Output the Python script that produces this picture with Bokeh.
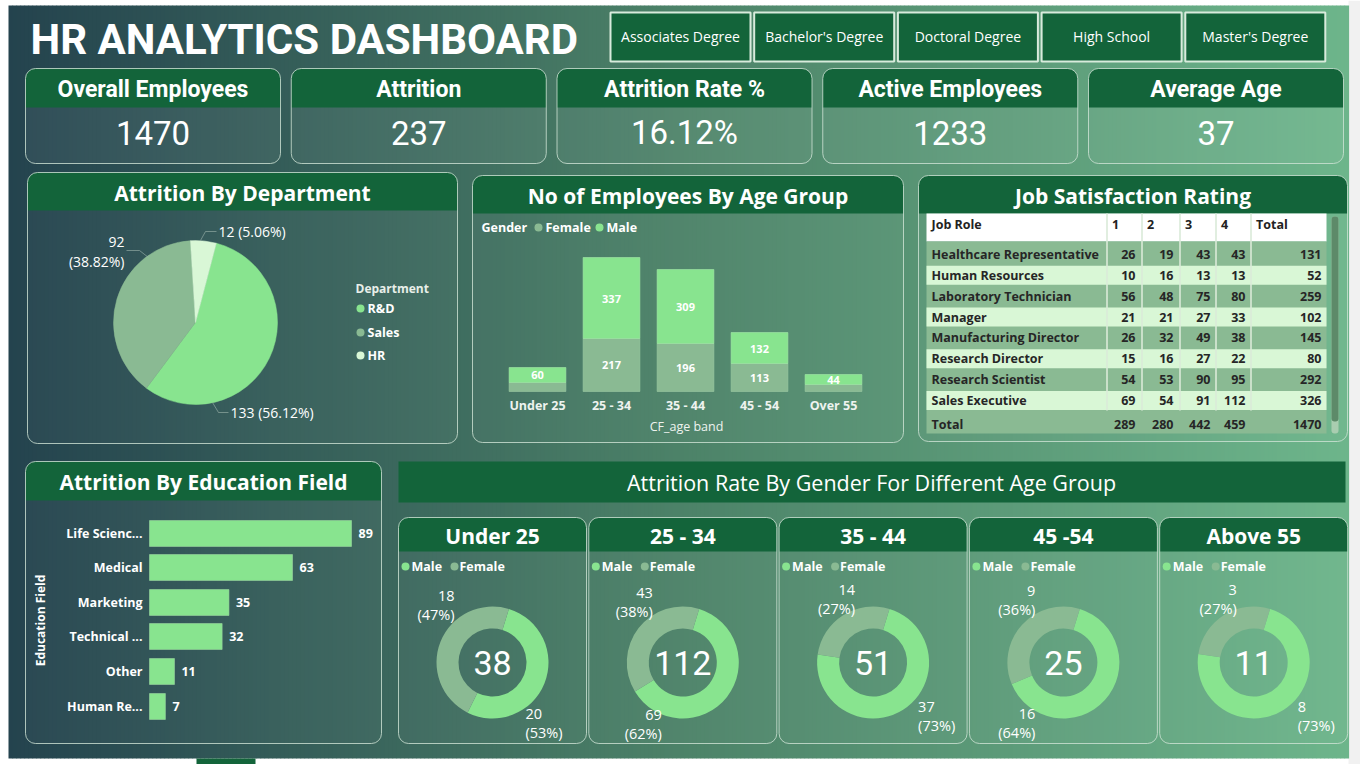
import numpy as np
from bokeh.plotting import figure
from bokeh.models import Range1d
from bokeh.core.properties import value
from bokeh.embed import file_html
from bokeh.resources import INLINE

# ---------------- data ----------------
education_levels = ["Associates Degree", "Bachelor's Degree", "Doctoral Degree", "High School", "Master's Degree"]

kpi_titles = ["Overall Employees", "Attrition", "Attrition Rate %", "Active Employees", "Average Age"]
average_age = 37

departments = ["R&D", "Sales", "HR"]
dept_attrition = [133, 92, 12]

age_bands = ["Under 25", "25 - 34", "35 - 44", "45 - 54", "Over 55"]
female_employees = [37, 217, 196, 113, 25]
male_employees = [60, 337, 309, 132, 44]

job_roles = ["Healthcare Representative", "Human Resources", "Laboratory Technician", "Manager",
             "Manufacturing Director", "Research Director", "Research Scientist", "Sales Executive",
             "Sales Representative"]
rating_1 = [26, 10, 56, 21, 26, 15, 54, 69, 12]
rating_2 = [19, 16, 48, 21, 32, 16, 53, 54, 21]
rating_3 = [43, 13, 75, 27, 49, 27, 90, 91, 27]
rating_4 = [43, 13, 80, 33, 38, 22, 95, 112, 23]
rating_headers = ["Job Role", "1", "2", "3", "4", "Total"]
visible_roles = 8  # rows visible above the table's scroll position

edu_fields = ["Life Sciences", "Medical", "Marketing", "Technical Degree", "Other", "Human Resources"]
edu_tick_labels = ["Life Scienc...", "Medical", "Marketing", "Technical ...", "Other", "Human Re..."]
edu_attrition = [89, 63, 35, 32, 11, 7]

gender_age_groups = ["Under 25", "25 - 34", "35 - 44", "45 -54", "Above 55"]
attrition_male = [20, 69, 37, 16, 8]
attrition_female = [18, 43, 14, 9, 3]

# ---------------- derived KPIs ----------------
total_employees = sum(female_employees) + sum(male_employees)
total_attrition = sum(dept_attrition)
attrition_rate = total_attrition / total_employees * 100
kpi_values = [str(total_employees), str(total_attrition), f"{attrition_rate:.2f}%",
              str(total_employees - total_attrition), str(average_age)]

# ---------------- style ----------------
W, H = 1360, 764
DARK = "#13643a"
MALE = "#88e48f"
FEMALE = "#8aba93"
PALE = "#d9f7d6"
EDGE = "#cfe3d6"
SANS = "Open Sans"
NARROW = "Roboto"


def Y(py):
    """top-down pixel row -> plot y"""
    return H - py


p = figure(width=W, height=H, x_range=Range1d(0, W), y_range=Range1d(0, H),
           output_backend="svg", toolbar_location=None, min_border=0)
p.axis.visible = False
p.grid.visible = False
p.outline_line_color = None
p.background_fill_color = "white"
p.border_fill_color = "white"


def put(x, y, s, size, color="white", bold=False, align="center", baseline="middle",
        font=SANS, angle=0.0, target=None, **kw):
    t = target if target is not None else p
    xs = x if isinstance(x, (list, np.ndarray)) else [x]
    ys = y if isinstance(y, (list, np.ndarray)) else [y]
    ss = s if isinstance(s, list) else [s]
    if target is None:
        ys = [Y(v) for v in ys]
    t.text(x=list(xs), y=list(ys), text=ss, text_font=value(font), text_font_size=size,
           text_font_style="bold" if bold else "normal", text_color=color,
           text_align=align, text_baseline=baseline, angle=angle, **kw)


def panel(x0, x1, y0, y1, head, title=None, size="21px", bold=True, radius=10, body_alpha=0.03):
    p.quad(left=x0, right=x1, top=Y(y0), bottom=Y(y1), fill_color="white", fill_alpha=body_alpha,
           line_color=None, border_radius=radius)
    p.quad(left=x0, right=x1, top=Y(y0), bottom=Y(y0 + head), fill_color=DARK, line_color=None,
           border_radius=(radius, radius, 0, 0))
    p.quad(left=x0, right=x1, top=Y(y0), bottom=Y(y1), fill_color=None, line_color=EDGE,
           line_alpha=0.8, line_width=1, border_radius=radius)
    if title:
        put((x0 + x1) / 2, y0 + head / 2 + 1, title, size, bold=bold)


# ---------------- background ----------------
p.quad(left=1348, right=W, top=H, bottom=0, fill_color="#f1f1f1", line_color=None)
gx = np.arange(8, 1348, 4.0)
t = (gx + 2 - 8) / 1340.0
stops = np.array([[36, 67, 78], [76, 130, 104], [109, 181, 139]])
rgb = np.stack([np.interp(t, [0, 0.5, 1], stops[:, k]) for k in range(3)], axis=1)
bg = ["#%02x%02x%02x" % tuple(int(round(c)) for c in row) for row in rgb]
p.quad(left=gx, right=gx + 4.6, top=Y(5), bottom=Y(758), fill_color=bg, line_color=None)
p.quad(left=196, right=255, top=Y(758), bottom=0, fill_color=DARK, line_color=None)

# ---------------- title and slicer ----------------
put(30, 39, "HR ANALYTICS DASHBOARD", "42px", bold=True, align="left", font=NARROW)
sl_left = [610 + i * 143.7 for i in range(len(education_levels))]
p.quad(left=sl_left, right=[v + 140 for v in sl_left], top=Y(12), bottom=Y(61),
       fill_color=DARK, line_color="#d8ebdc", line_width=2)
put([v + 70 for v in sl_left], [36] * 5, education_levels, "14px")

# ---------------- KPI cards ----------------
for i, (ttl, val) in enumerate(zip(kpi_titles, kpi_values)):
    x0 = 25 + i * 265.75
    panel(x0, x0 + 255, 68, 163, 39, body_alpha=0.06)
    put(x0 + 127.5, 89, ttl, "23px", bold=True, font=NARROW)
    put(x0 + 127.5, 132, val, "33px", font=NARROW)

# ---------------- attrition by department (pie) ----------------
panel(27, 457, 172, 443, 38, "Attrition By Department")
pie_cx, pie_cy, pie_r = 195, 322, 82
frac = np.array(dept_attrition) / total_attrition
cum = np.concatenate([[0.0], np.cumsum(frac)]) * 360.0
rot = 14.7  # clockwise offset of the first slice from 12 o'clock
p.wedge(x=pie_cx, y=Y(pie_cy), radius=pie_r, radius_units="screen",
        start_angle=np.deg2rad(90 - (rot + cum[:-1])), end_angle=np.deg2rad(90 - (rot + cum[1:])),
        direction="clock", fill_color=[MALE, FEMALE, PALE], line_color=[MALE, FEMALE, PALE], line_width=0.5)
pie_lbl = [f"{v} ({v / total_attrition * 100:.2f}%)" for v in dept_attrition]
# leader lines
p.line(x=[126, 139, 148], y=[Y(250), Y(250), Y(257)], line_color="#9fb5ad", line_width=1, line_alpha=0.6)
p.line(x=[216, 205, 200], y=[Y(231), Y(231), Y(240)], line_color="#9fb5ad", line_width=1, line_alpha=0.6)
p.line(x=[228, 218, 212], y=[Y(412), Y(412), Y(402)], line_color="#9fb5ad", line_width=1, line_alpha=0.6)
put(230, 412, pie_lbl[0], "14px", align="left")
put(124, 241, str(dept_attrition[1]), "14px", align="right")
put(124, 261, pie_lbl[1].split(" ")[1], "14px", align="right")
put(218, 231, pie_lbl[2], "14px", align="left")
put(355, 288, "Department", "12px", color="#e8efe9", bold=True, align="left")
p.scatter(x=[360, 360, 360], y=[Y(308), Y(332), Y(355)], size=8, fill_color=[MALE, FEMALE, PALE], line_color=None)
put([367] * 3, [308, 332, 355], departments, "12.5px", bold=True, align="left")

# ---------------- employees by age group (stacked columns) ----------------
panel(472, 903, 175, 442, 38, "No of Employees By Age Group")
put(481, 227, "Gender", "12.5px", bold=True, align="left")
p.scatter(x=[538, 599], y=[Y(227), Y(227)], size=8, fill_color=[FEMALE, MALE], line_color=None)
put([545, 606], [227, 227], ["Female", "Male"], "12.5px", bold=True, align="left")

px_per_emp = 0.2401
age = p.subplot(x_source=Range1d(-0.5, 4.5), y_source=Range1d(0, 600),
                x_target=Range1d(501.1, 869.9), y_target=Range1d(Y(391), Y(391 - 600 * px_per_emp)))
ai = np.arange(len(age_bands))
fem = np.array(female_employees)
mal = np.array(male_employees)
age.vbar(x=ai, width=0.77, bottom=0, top=fem, fill_color=FEMALE, line_color="#9cc9a3", line_width=0.6)
age.vbar(x=ai, width=0.77, bottom=fem, top=fem + mal, fill_color=MALE, line_color="#a3e9a8", line_width=0.6)
age.text(x=ai, y=fem + mal / 2, text=[str(v) for v in mal], text_font=value(SANS), text_font_size="11px",
         text_font_style="bold", text_color="white", text_align="center", text_baseline="middle")
show_f = fem * px_per_emp > 20
age.text(x=ai[show_f], y=fem[show_f] / 2, text=[str(v) for v in fem[show_f]], text_font=value(SANS),
         text_font_size="11px", text_font_style="bold", text_color="white",
         text_align="center", text_baseline="middle")
age.text(x=ai, y=[0] * len(ai), y_offset=14, text=age_bands, text_font=value(SANS), text_font_size="12.5px",
         text_font_style="bold", text_color="#eef3ef", text_align="center", text_baseline="middle")
put(686, 426, "CF_age band", "12.5px", color="#eef3ef")

# ---------------- job satisfaction table ----------------
panel(918, 1347, 175, 441, 38, "Job Satisfaction Rating")
tx0, tx1 = 926, 1326
col_edges = [926, 1106.5, 1141.5, 1179.5, 1215.5, 1250.5, 1326]
num_right = [1135, 1173, 1210, 1245, 1321]
p.quad(left=tx0, right=tx1, top=Y(213), bottom=Y(241), fill_color="white", line_color=None)
p.quad(left=tx0, right=tx1, top=Y(241), bottom=Y(433), fill_color=FEMALE, line_color=None)
row_y = [254 + i * 20.86 for i in range(visible_roles)]
pale_rows = [y for i, y in enumerate(row_y) if i % 2 == 1]
p.quad(left=tx0, right=tx1, top=[Y(y - 9.5) for y in pale_rows], bottom=[Y(y + 9.5) for y in pale_rows],
       fill_color=PALE, line_color=None)
p.segment(x0=col_edges[1:-1], x1=col_edges[1:-1], y0=Y(213), y1=Y(410),
          line_color="#d9ead8", line_width=2, line_alpha=0.8)
hdr_x = [931] + [e + 5 for e in col_edges[1:-1]]
put(hdr_x, [224] * 6, rating_headers, "12.5px", color="#222222", bold=True, align="left")
ratings = [rating_1, rating_2, rating_3, rating_4]
role_totals = [sum(r) for r in zip(*ratings)]
put([931] * visible_roles, row_y, job_roles[:visible_roles], "12.5px", color="#262626", bold=True, align="left")
for c, col in enumerate(ratings + [role_totals]):
    put([num_right[c]] * visible_roles, row_y, [str(v) for v in col[:visible_roles]], "12.5px",
        color="#262626", bold=True, align="right")
col_totals = [sum(r) for r in ratings] + [sum(role_totals)]
put(931, 424, "Total", "12.5px", color="#262626", bold=True, align="left")
put(num_right, [424] * 5, [str(v) for v in col_totals], "12.5px", color="#262626", bold=True, align="right")
# scrollbar
p.quad(left=1331, right=1338, top=Y(216), bottom=Y(433), fill_color="#a9cdb0", line_color=None, border_radius=3)
p.quad(left=1331, right=1338, top=Y(216), bottom=Y(421), fill_color="#5d8a69", line_color=None, border_radius=3)

# ---------------- attrition by education field (bars) ----------------
panel(25, 381, 461, 743, 39, "Attrition By Education Field")
ne = len(edu_fields)
edu = p.subplot(x_source=Range1d(0, 100), y_source=Range1d(-0.5, ne - 0.5),
                x_target=Range1d(149, 149 + 100 * 2.27), y_target=Range1d(Y(723.3), Y(515.7)))
ey = np.arange(ne)[::-1]
edu.hbar(y=ey, height=0.75, left=0, right=edu_attrition, fill_color=MALE, line_color="#9bd6a0", line_width=0.6)
edu.text(x=[0] * ne, y=ey, x_offset=-7, text=edu_tick_labels, text_font=value(SANS), text_font_size="12.5px",
         text_font_style="bold", text_color="white", text_align="right", text_baseline="middle")
edu.text(x=edu_attrition, y=ey, x_offset=7, text=[str(v) for v in edu_attrition], text_font=value(SANS),
         text_font_size="12.5px", text_font_style="bold", text_color="white", text_align="left",
         text_baseline="middle")
put(40, 620, "Education Field", "12px", bold=True, angle=np.pi / 2)

# ---------------- attrition rate by gender per age group (donuts) ----------------
p.quad(left=398, right=1345, top=Y(461), bottom=Y(502), fill_color=DARK, line_color=None)
put(871, 482, "Attrition Rate By Gender For Different Age Group", "21.5px")

fem_lbl = [(-38, 595), (-30, 592), (-18, 589), (-28, 590), (-17, 589)]
male_lbl = [(33, 713, "left"), (-21, 714, "right"), (45, 706, "left"), (-28, 713, "right"), (44, 706, "left")]
start_cw = 17.0  # male slice starts this many degrees clockwise from 12 o'clock
for i, grp in enumerate(gender_age_groups):
    x0 = 398 + i * 190.3
    cx, cy = x0 + 94, 662
    panel(x0, x0 + 188, 517, 743, 34, grp, size="21px")
    p.scatter(x=[x0 + 7, x0 + 56], y=[Y(566), Y(566)], size=8, fill_color=[MALE, FEMALE], line_color=None)
    put([x0 + 13, x0 + 61], [566, 566], ["Male", "Female"], "12.5px", bold=True, align="left")
    m, f = attrition_male[i], attrition_female[i]
    tot = m + f
    sweep = np.array([0.0, m / tot, 1.0]) * 360.0 + start_cw
    p.annular_wedge(x=cx, y=Y(cy), inner_radius=34, outer_radius=56, inner_radius_units="screen",
                    outer_radius_units="screen", start_angle=np.deg2rad(90 - sweep[:-1]),
                    end_angle=np.deg2rad(90 - sweep[1:]), direction="clock",
                    fill_color=[MALE, FEMALE], line_color=None)
    put(cx, cy, str(tot), "34px", font=NARROW)
    fdx, fy = fem_lbl[i]
    put(cx + fdx, fy, str(f), "14.5px", align="right")
    put(cx + fdx, fy + 19, f"({round(f / tot * 100)}%)", "14.5px", align="right")
    mdx, my, mal_align = male_lbl[i]
    put(cx + mdx, my, str(m), "14.5px", align=mal_align)
    put(cx + mdx, my + 19, f"({round(m / tot * 100)}%)", "14.5px", align=mal_align)

open("out.html", "w").write(file_html(p, INLINE))
